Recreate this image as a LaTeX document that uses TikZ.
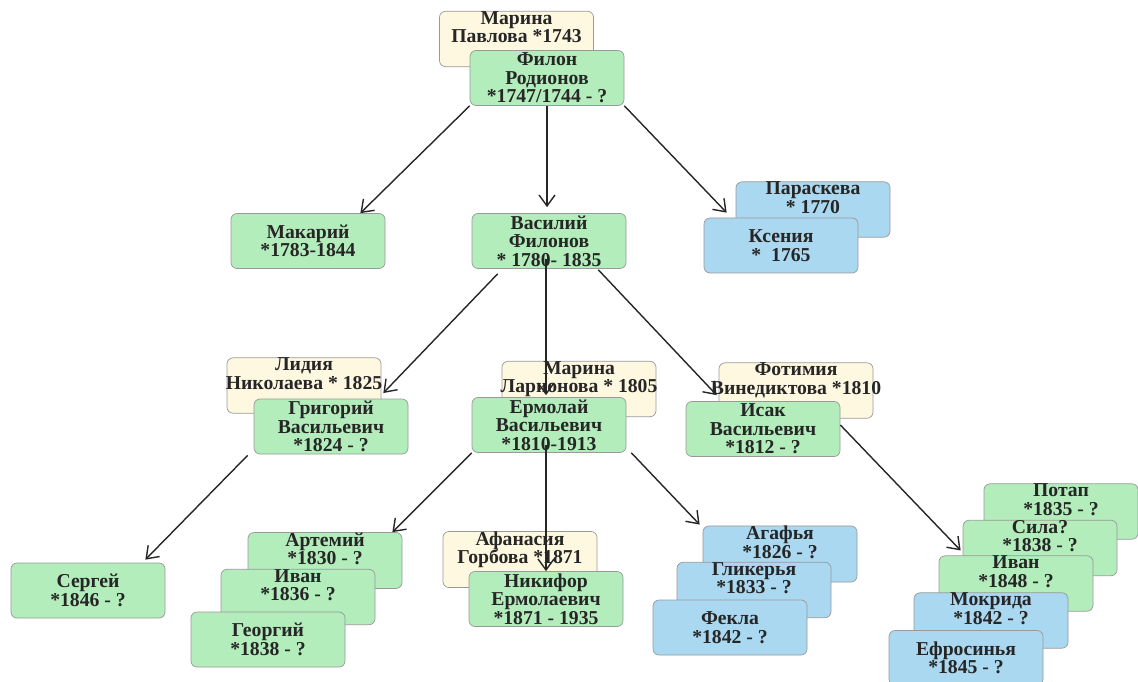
\documentclass[tikz,border=0pt]{standalone}
\usepackage{fontspec}
\setmainfont{Liberation Serif}
\usetikzlibrary{
	arrows.meta,
	calc,
}
\definecolor{malefill}{HTML}{B3EDBB}
\definecolor{femalefill}{HTML}{AAD8F0}
\definecolor{spousefill}{HTML}{FFF8E0}
\newcommand{\longline}[1]{\makebox[3cm]{#1}}
\tikzset{person/.style={draw=black!40,rounded corners=1.2mm,minimum width=3.08cm,minimum height=1.1cm,inner sep=0mm,align=center,font=\fontsize{11.2}{10.5}\selectfont\bfseries,text=black!85,}}
\tikzset{male/.style={person,fill=malefill,}}
\tikzset{female/.style={person,fill=femalefill,}}
\tikzset{spouse/.style={person,fill=spousefill,}}
\tikzset{link/.style={->,line width=0.8pt,black!85,}}
\tikzset{
	>={Straight Barb[length=2.2mm,width=3.2mm]},
}

\begin{document}
\begin{tikzpicture}
\useasboundingbox (0,0) rectangle (22.76,13.62);

% generation 1
\node[spouse](marinaP) at(10.33,12.84) {Марина\\\longline{Павлова *1743}\\ \strut};
\node[male](filon) at(10.94,12.06) {Филон\\Родионов\\*1747/1744 - ?};

% generation 2
\node[male](makariy) at(6.16,8.80) {Макарий\\*1783-1844};
\node[male](vasiliy) at(10.98,8.80) {Василий\\Филонов\\* 1780- 1835};
\node[female](paraskeva) at(16.26,9.43) {Параскева\\* 1770\\ \strut};
\node[female](kseniya) at(15.62,8.71) {Ксения\\*~~1765};

% generation 3
\node[spouse](lidiya) at(6.08,5.91) {Лидия\\\longline{Николаева * 1825}\\ \strut};
\node[male](grigoriy) at(6.62,5.09) {Григорий\\Васильевич\\*1824 - ?};
\node[spouse](marinaL) at(11.58,5.84) {Марина\\\longline{Ларионова * 1805}\\ \strut};
\node[male](ermolay) at(10.98,5.12) {Ермолай\\Васильевич\\*1810-1913};
\node[spouse](fotimiya) at(15.92,5.81) {Фотимия\\\longline{Винедиктова *1810}\\ \strut};
\node[male](isak) at(15.26,5.04) {Исак\\Васильевич\\*1812 - ?};

% generation 4
\node[male](sergey) at(1.76,1.81) {Сергей\\*1846 - ?};

\node[male](artemiy) at(6.50,2.41) {Артемий\\*1830 - ?\\ \strut};
\node[male](ivanA) at(5.96,1.68) {Иван\\*1836 - ?\\ \strut};
\node[male](georgiy) at(5.36,0.83) {Георгий\\*1838 - ?};

\node[spouse](afanasiya) at(10.40,2.43) {Афанасия\\Горбова *1871\\ \strut};
\node[male](nikifor) at(10.92,1.64) {Никифор\\Ермолаевич\\*1871 - 1935};

\node[female](agafya) at(15.60,2.54) {Агафья\\*1826 - ?\\ \strut};
\node[female](glikerya) at(15.08,1.82) {Гликерья\\*1833 - ?\\ \strut};
\node[female](fekla) at(14.60,1.07) {Фекла\\*1842 - ?};

\node[male](potap) at(21.22,3.39) {Потап\\*1835 - ?\\ \strut};
\node[male](sila) at(20.80,2.66) {Сила?\\*1838 - ?\\ \strut};
\node[male](ivanB) at(20.32,1.95) {Иван\\*1848 - ?\\ \strut};
\node[female](mokrida) at(19.82,1.21) {Мокрида\\*1842 - ?\\ \strut};
\node[female](efrosinya) at(19.32,0.46) {Ефросинья\\*1845 - ?};

% arrows
\draw[link] (filon.south west) -- ([xshift=-5mm]makariy.north east);
\draw[link] (filon.south) -- ([yshift=1.2mm]filon.south |- vasiliy.north);
\draw[link] (filon.south east) -- ([xshift=4.6mm,yshift=1mm]kseniya.north west);

\draw[link] ([xshift=5.2mm,yshift=-1mm]vasiliy.south west) -- ([xshift=0.4mm,yshift=-1.5mm]lidiya.east);
\draw[link] ([xshift=-0.6mm,yshift=2mm]vasiliy.south) -- ([xshift=-0.6mm,yshift=0.4mm]ermolay.north);
\draw[link] ([xshift=-5.6mm,yshift=-0.2mm]vasiliy.south east) -- ([xshift=6.2mm,yshift=1.2mm]isak.north west);

\draw[link] ([xshift=-1.2mm,yshift=-0.2mm]grigoriy.south west) -- ([xshift=-4mm,yshift=0.6mm]sergey.north east);
\draw[link] (ermolay.south west) -- ([xshift=-2mm]artemiy.north east);
\draw[link] ([xshift=-0.6mm,yshift=1.6mm]ermolay.south) -- ([xshift=-0.6mm]ermolay.south |- nikifor.north);
\draw[link] ([xshift=1mm]ermolay.south east) -- ([xshift=-0.6mm,yshift=0.2mm]agafya.north west);
\draw[link] ([yshift=0.8mm]isak.east) -- ([xshift=4.4mm,yshift=1mm]ivanB.north west);

\end{tikzpicture}
\end{document}
